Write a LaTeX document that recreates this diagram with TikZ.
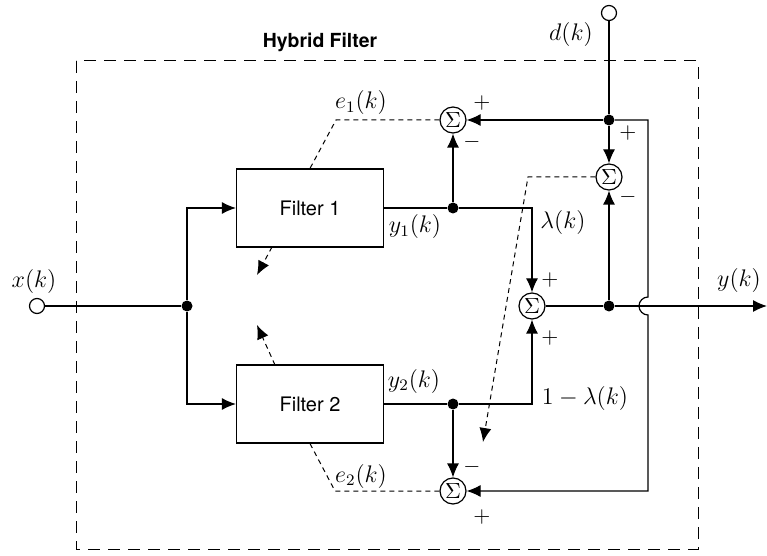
\documentclass[tikz,border=0pt]{standalone}
\usepackage{fontspec}
\newfontfamily\helv{TeX Gyre Heros}
\usetikzlibrary{arrows.meta}
\begin{document}
\begin{tikzpicture}[x=0.5pt,y=-0.5pt,
  line width=0.6pt,
  >={Latex[length=7pt,width=6pt]},
  sumnode/.style={draw,circle,inner sep=0pt,minimum size=13pt,font=\fontsize{11}{13}\selectfont},
  dotnode/.style={circle,fill,inner sep=0pt,minimum size=5.5pt},
  termnode/.style={draw,circle,fill=white,inner sep=0pt,minimum size=7.5pt},
  filterbox/.style={draw,rectangle,minimum width=73.5pt,minimum height=39pt,font=\helv\fontsize{10}{12}\selectfont},
  lbl/.style={inner sep=0pt,font=\fontsize{11.5}{13}\selectfont},
  sgn/.style={inner sep=0pt,font=\fontsize{11}{13}\selectfont},
  errline/.style={dashed,dash pattern=on 2.5pt off 2pt,line width=0.5pt},
  boxline/.style={dash pattern=on 6pt off 4pt,line width=0.5pt}]
\useasboundingbox (0,0) rectangle (767,556);
% hybrid filter frame
\draw[boxline] (76,61) rectangle (698,549);
\node[inner sep=0pt,font=\helv\bfseries\fontsize{9.7}{11}\selectfont] (title) at (320,42) {Hybrid Filter};
% nodes
\node[termnode] (xin) at (37,306) {};
\node[termnode] (din) at (609,13) {};
\node[dotnode] (j0) at (187,306) {};
\node[filterbox] (f1) at (310,208) {Filter 1};
\node[filterbox] (f2) at (310,404) {Filter 2};
\node[dotnode] (j1) at (453,208) {};
\node[dotnode] (j2) at (453,404) {};
\node[dotnode] (jd) at (609,120) {};
\node[dotnode] (jy) at (609,306) {};
\node[sumnode] (s1) at (453,120) {$\Sigma$};
\node[sumnode] (s3) at (609,177) {$\Sigma$};
\node[sumnode] (s2) at (532,306) {$\Sigma$};
\node[sumnode] (s4) at (453,491) {$\Sigma$};
\coordinate (yout) at (767,306);
\coordinate (fbtop) at (648,120);
\coordinate (fbbot) at (648,491);
\coordinate (jumptop) at (648,297);
\coordinate (e1c) at (336,120);
\coordinate (e2c) at (335,491);
\coordinate (lc) at (528,177);
\coordinate (lt) at (483,442);
\coordinate (a1s) at (272,247);
\coordinate (a1e) at (257,275);
\coordinate (a2s) at (275,365);
\coordinate (a2e) at (257,325);
% signal paths
\draw (xin) -- (j0);
\draw[->] (j0) |- (f1);
\draw[->] (j0) |- (f2);
\draw (f1) -- (j1);
\draw (f2) -- (j2);
\draw[->] (j1) -- (s1);
\draw[->] (j1) -| (s2);
\draw[->] (j2) -| (s2);
\draw[->] (j2) -- (s4);
\draw (din) -- (jd);
\draw[->] (jd) -- (s1);
\draw[->] (jd) -- (s3);
\draw (s2) -- (jy);
\draw[->] (jy) -- (yout);
\draw[->] (jy) -- (s3);
\draw[->] (jd) -- (fbtop) -- (jumptop) arc[start angle=90,end angle=270,radius=4.5pt] -- (fbbot) -- (s4);
% error / adaptation paths
\draw[errline] (s1) -- (e1c) -- (f1.north);
\draw[errline] (s4) -- (e2c) -- (f2.south);
\draw[errline,->] (s3) -- (lc) -- (lt);
\draw[errline,->] (a1s) -- (a1e);
\draw[errline,->] (a2s) -- (a2e);
% labels
\node[lbl] (lx) at (34,281) {$x(k)$};
\node[lbl] (ld) at (571,35) {$d(k)$};
\node[lbl] (ly) at (739,280) {$y(k)$};
\node[lbl] (le1) at (361,103) {$e_1(k)$};
\node[lbl] (le2) at (361,476) {$e_2(k)$};
\node[lbl] (ly1) at (415,227) {$y_1(k)$};
\node[lbl] (ly2) at (414,381) {$y_2(k)$};
\node[lbl] (llam) at (563,222) {$\lambda(k)$};
\node[lbl] (l1lam) at (585,398) {$1-\lambda(k)$};
% signs
\node[sgn] at (482,103) {$+$};
\node[sgn] at (472,142) {$-$};
\node[sgn] at (628,133) {$+$};
\node[sgn] at (628,197) {$-$};
\node[sgn] at (550,280) {$+$};
\node[sgn] at (550,338) {$+$};
\node[sgn] at (472,467) {$-$};
\node[sgn] at (482,517) {$+$};
\end{tikzpicture}
\end{document}
